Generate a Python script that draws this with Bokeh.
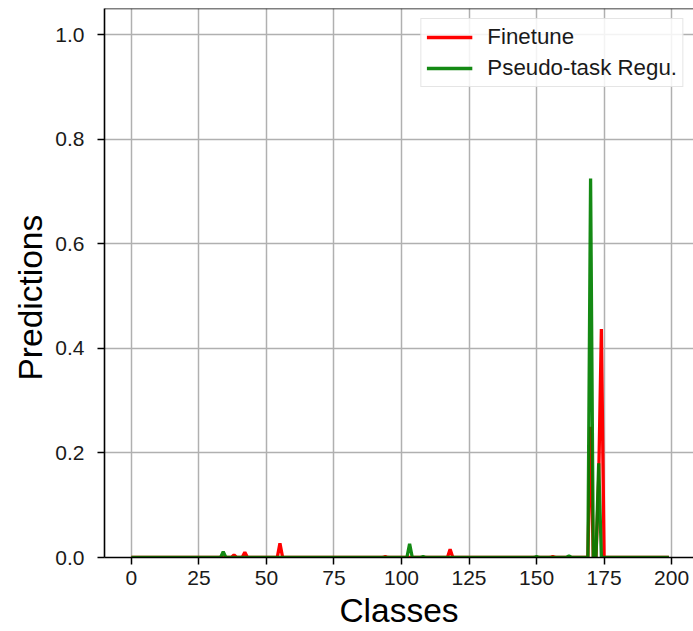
from bokeh.plotting import figure
from bokeh.models import Range1d, FixedTicker, PrintfTickFormatter, Span, Legend, LegendItem, Title
from bokeh.embed import file_html
from bokeh.resources import INLINE

# ---- data ----
classes = list(range(200))
finetune_idx = [38, 42, 55, 94, 118, 156, 170, 173, 174]
finetune_val = [0.005, 0.010, 0.027, 0.002, 0.016, 0.002, 0.25, 0.15, 0.437]
pseudo_idx = [34, 103, 108, 150, 162, 170, 173]
pseudo_val = [0.011, 0.026, 0.002, 0.002, 0.003, 0.725, 0.18]
x_ticks = [0, 25, 50, 75, 100, 125, 150, 175, 200]
y_ticks = [0.0, 0.2, 0.4, 0.6, 0.8, 1.0]
series_names = ["Finetune", "Pseudo-task Regu."]

finetune = [0.0] * len(classes)
for i, v in zip(finetune_idx, finetune_val):
    finetune[i] = v
pseudo = [0.0] * len(classes)
for i, v in zip(pseudo_idx, pseudo_val):
    pseudo[i] = v

FONT = "Liberation Sans"

p = figure(width=693, height=631, output_backend="svg", toolbar_location=None,
           x_range=Range1d(-9.95, 208.1), y_range=Range1d(0, 1.05),
           min_border_left=104, min_border_top=8, min_border_right=0, min_border_bottom=0)

r_fine = p.line(classes, finetune, line_color="#ff0000", line_width=3.3)
r_pseudo = p.line(classes, pseudo, line_color="#008000", line_width=3.3, line_alpha=0.92)

p.outline_line_color = None
p.add_layout(Span(location=1.05, dimension="width", line_color="black", line_width=1.6))

p.xaxis.ticker = FixedTicker(ticks=x_ticks)
p.yaxis.ticker = FixedTicker(ticks=y_ticks)
p.yaxis.formatter = PrintfTickFormatter(format="%.1f")
p.xaxis.axis_label = "Classes"
for ax in (p.xaxis, p.yaxis):
    ax.axis_label_text_font = FONT
    ax.axis_label_text_font_style = "normal"
    ax.axis_label_text_font_size = "33.5px"
    ax.axis_label_text_color = "black"
    ax.major_label_text_font = FONT
    ax.major_label_text_font_size = "21px"
    ax.major_label_text_color = "#1a1a1a"
    ax.major_tick_out = 7
    ax.major_tick_in = 0
    ax.minor_tick_line_color = None
    ax.major_tick_line_width = 1.5
    ax.major_tick_line_color = "black"
    ax.axis_line_width = 1.6
    ax.axis_line_color = "black"
p.xaxis.major_label_standoff = 6
p.xaxis.axis_label_standoff = 4
p.yaxis.major_label_standoff = 13

# y-axis label as a side title so it can sit slightly below the frame centre, as in the reference
ylab = Title(text="Predictions", align="left", offset=177, standoff=8,
             text_font=FONT, text_font_style="normal", text_font_size="33.5px",
             text_color="black")
p.add_layout(ylab, "left")

p.grid.grid_line_color = "#b0b0b0"
p.grid.grid_line_width = 1.5

legend = Legend(items=[LegendItem(label=series_names[0], renderers=[r_fine]),
                       LegendItem(label=series_names[1], renderers=[r_pseudo])],
                location="top_right")
legend.label_text_font = FONT
legend.label_text_font_size = "22.3px"
legend.label_text_color = "#1a1a1a"
legend.glyph_width = 46
legend.glyph_height = 22
legend.label_height = 22
legend.label_standoff = 15
legend.padding = 5
legend.spacing = 5
legend.margin = 10
legend.border_line_color = "#cccccc"
legend.border_line_width = 1
legend.background_fill_alpha = 0.85
p.add_layout(legend)

open("out.html", "w").write(file_html(p, INLINE))
